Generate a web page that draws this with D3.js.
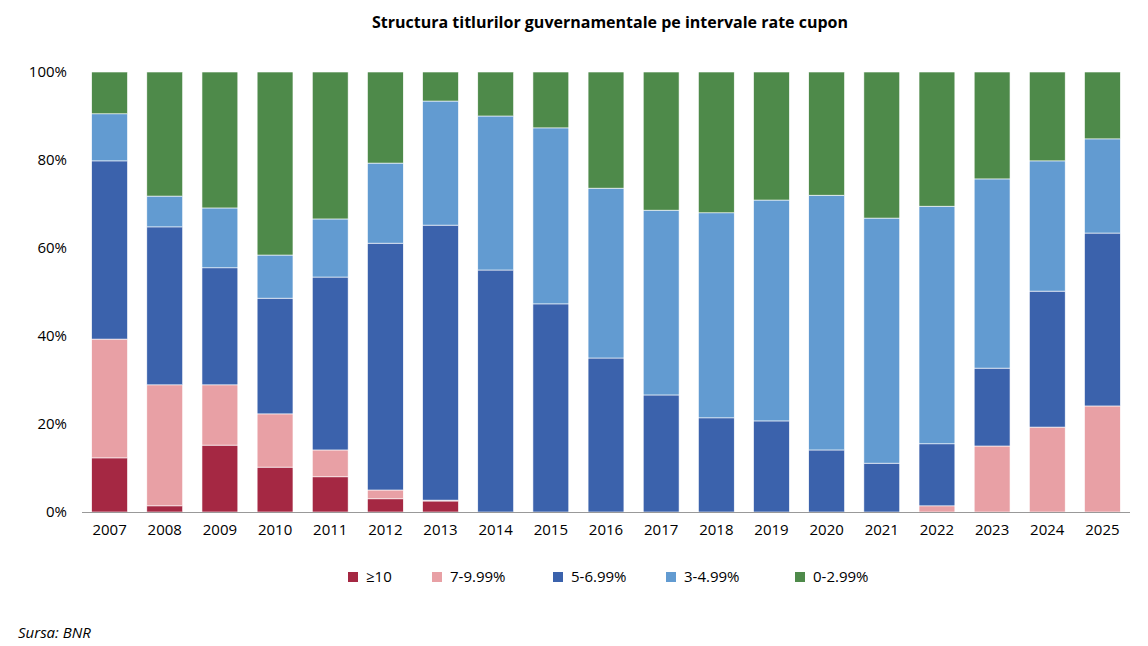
<!DOCTYPE html>
<html><head><meta charset="utf-8">
<script src="https://cdn.jsdelivr.net/npm/d3@7"></script>
<style>body{margin:0;background:#fff}text{font-family:"Open Sans",sans-serif}</style>
</head><body><svg id="c" width="1148" height="646"></svg>
<script>
const years=["2007","2008","2009","2010","2011","2012","2013","2014","2015","2016","2017","2018","2019","2020","2021","2022","2023","2024","2025"];
const seriesNames=["≥10","7-9.99%","5-6.99%","3-4.99%","0-2.99%"];
const s10=[12.3,1.4,15.2,10.2,8.0,3.0,2.5,0,0,0,0,0,0,0,0,0,0,0,0];
const s7=[27.0,27.5,13.7,12.1,6.1,2.0,0.2,0,0,0,0,0,0,0,0,1.4,15.0,19.3,24.1];
const s5=[40.5,35.9,26.6,26.3,39.3,56.1,62.5,55.0,47.3,35.0,26.6,21.4,20.7,14.1,11.1,14.1,17.7,30.9,39.3];
const s3=[10.7,7.0,13.6,9.8,13.2,18.2,28.2,35.0,40.0,38.6,42.0,46.6,50.2,57.9,55.7,54.0,43.0,29.6,21.4];
const s0=[9.5,28.2,30.9,41.6,33.4,20.7,6.6,10.0,12.7,26.4,31.4,32.0,29.1,28.0,33.2,30.5,24.3,20.2,15.2];
const yTicks=[0,20,40,60,80,100];
const colors=["#A52843","#E8A0A5","#3B62AC","#629BD1","#4E8A4A"];
const all=[s10,s7,s5,s3,s0];
const data=years.map((y,i)=>{const o={year:y};seriesNames.forEach((n,k)=>o[n]=all[k][i]);return o;});
const stack=d3.stack().keys(seriesNames)(data);
const svg=d3.select("#c");
const x=d3.scaleBand().domain(years).range([82,1130]).paddingInner(0.35).paddingOuter(0.175);
const y=d3.scaleLinear().domain([0,100]).range([512,72]);
svg.append("text").attr("x",610).attr("y",28).attr("text-anchor","middle").attr("font-weight","bold").attr("font-size",16).text("Structura titlurilor guvernamentale pe intervale rate cupon");
stack.forEach((layer,k)=>{
  svg.append("g").selectAll("rect").data(layer).join("rect")
    .attr("x",d=>x(d.data.year)).attr("width",x.bandwidth())
    .attr("y",d=>y(d[1])).attr("height",d=>Math.max(0,y(d[0])-y(d[1])))
    .attr("fill",colors[k]).attr("stroke","#fff").attr("stroke-width",d=>d[1]-d[0]>0?0.6:0);
});
const ya=svg.append("g").attr("transform","translate(70,0)").call(d3.axisLeft(y).tickValues(yTicks).tickFormat(d=>d+"%").tickSize(0));
ya.select(".domain").remove();
ya.selectAll("text").attr("font-size",15).attr("fill","#000");
const xa=svg.append("g").attr("transform","translate(0,512)").call(d3.axisBottom(x).tickSize(0).tickPadding(12));
xa.select(".domain").attr("stroke","#999").attr("d","M82,0.5H1130");
xa.selectAll("text").attr("font-size",15).attr("fill","#000");
const lx=[348,432,553,666,795];
seriesNames.forEach((n,k)=>{
  svg.append("rect").attr("x",lx[k]).attr("y",572).attr("width",10).attr("height",10).attr("fill",colors[k]);
  svg.append("text").attr("x",lx[k]+18).attr("y",582).attr("font-size",15).text(n);
});
svg.append("text").attr("x",18).attr("y",638).attr("font-style","italic").attr("font-size",15).text("Sursa: BNR");
</script></body></html>
